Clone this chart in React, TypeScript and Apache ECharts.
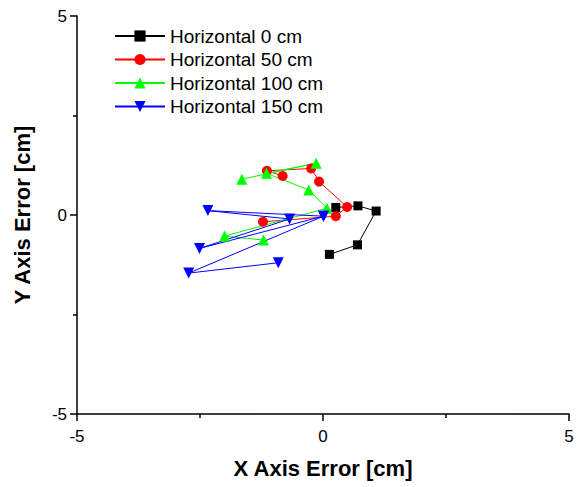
import React, { useEffect, useRef } from "react";
import * as echarts from "echarts";

const seriesNames = ["Horizontal 0 cm", "Horizontal 50 cm", "Horizontal 100 cm", "Horizontal 150 cm"];

const h0X = [0.26, 0.71, 1.08, 0.70, 0.13];
const h0Y = [0.19, 0.23, 0.10, -0.75, -0.99];

const h50X = [-0.82, -1.14, -0.24, -0.08, 0.49, 0.26, -1.22];
const h50Y = [0.98, 1.11, 1.17, 0.84, 0.20, -0.03, -0.17];

const h100X = [-1.65, -0.14, -1.15, -0.29, 0.08, -2.0, -1.21];
const h100Y = [0.90, 1.30, 1.05, 0.63, 0.17, -0.53, -0.63];

const h150X = [0.01, -2.34, -0.68, -2.51, 0.01, -2.73, -0.91];
const h150Y = [-0.03, 0.11, -0.10, -0.84, -0.03, -1.46, -1.20];

const xTicks = [-5, 0, 5];

const zip = (xs: number[], ys: number[]) => xs.map((x, i) => [x, ys[i]]);

export default function App() {
  const ref = useRef<HTMLDivElement>(null);
  useEffect(() => {
    if (!ref.current) return;
    const chart = echarts.init(ref.current, null, { renderer: "svg" });
    const font = "Liberation Sans";
    const mk = (name: string, color: string, data: number[][], symbol: string, size: number, rotate = 0) => ({
      name,
      type: "line",
      data,
      symbol,
      symbolSize: size,
      symbolRotate: rotate,
      showAllSymbol: true,
      lineStyle: { color, width: 1 },
      itemStyle: { color },
      emphasis: { disabled: true },
      z: 2,
    });
    chart.setOption({
      animation: false,
      backgroundColor: "#ffffff",
      grid: { left: 77, right: 13, top: 16, bottom: 73, containLabel: false },
      legend: {
        orient: "vertical",
        left: 114,
        top: 26,
        padding: 0,
        itemWidth: 50,
        itemHeight: 14,
        itemGap: 3.5,
        textStyle: { fontFamily: font, fontSize: 19, color: "#000", lineHeight: 20 },
        data: seriesNames,
      },
      xAxis: {
        type: "value",
        min: -5,
        max: 5,
        interval: 5,
        name: "X Axis Error [cm]",
        nameLocation: "middle",
        nameGap: 43,
        nameTextStyle: { fontFamily: font, fontSize: 22, fontWeight: "bold", color: "#000" },
        axisLine: { show: true, onZero: false, lineStyle: { color: "#000", width: 1.5 } },
        axisTick: { show: true, inside: false, length: 7, lineStyle: { color: "#000", width: 1.5 } },
        minorTick: { show: true, splitNumber: 2, length: 4, lineStyle: { color: "#000", width: 1.5 } },
        axisLabel: {
          fontFamily: font,
          fontSize: 17,
          color: "#000",
          margin: 14,
          formatter: (v: number) => (xTicks.includes(v) ? String(v) : ""),
        },
        splitLine: { show: false },
      },
      yAxis: {
        type: "value",
        min: -5,
        max: 5,
        interval: 5,
        name: "Y Axis Error [cm]",
        nameLocation: "middle",
        nameGap: 44,
        nameTextStyle: { fontFamily: font, fontSize: 22, fontWeight: "bold", color: "#000" },
        axisLine: { show: true, onZero: false, lineStyle: { color: "#000", width: 1.5 } },
        axisTick: { show: true, inside: false, length: 7, lineStyle: { color: "#000", width: 1.5 } },
        minorTick: { show: true, splitNumber: 2, length: 4, lineStyle: { color: "#000", width: 1.5 } },
        axisLabel: { fontFamily: font, fontSize: 17, color: "#000", margin: 10 },
        splitLine: { show: false },
      },
      series: [
        mk(seriesNames[0], "#000000", zip(h0X, h0Y), "rect", 9),
        mk(seriesNames[1], "#ff0000", zip(h50X, h50Y), "circle", 10),
        mk(seriesNames[2], "#00ff00", zip(h100X, h100Y), "triangle", 11),
        mk(seriesNames[3], "#0000ff", zip(h150X, h150Y), "triangle", 11, 180),
      ],
    });
    return () => chart.dispose();
  }, []);
  return <div ref={ref} style={{ width: 582, height: 487, position: "absolute", left: 0, top: 0 }} />;
}
